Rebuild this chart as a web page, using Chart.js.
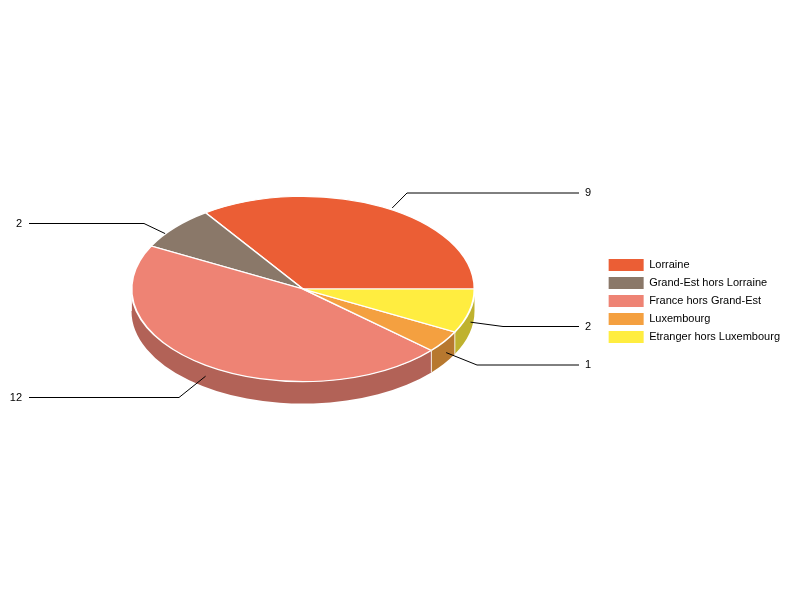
<!DOCTYPE html>
<html>
<head>
<meta charset="utf-8">
<title>Pie</title>
<script src="https://cdn.jsdelivr.net/npm/chart.js@4/dist/chart.umd.min.js"></script>
<style>
  body { margin: 0; background: #fff; }
  canvas { display: block; }
</style>
</head>
<body>
<canvas id="pie" width="800" height="600"></canvas>
<script>
const categories = ['Lorraine', 'Grand-Est hors Lorraine', 'France hors Grand-Est', 'Luxembourg', 'Etranger hors Luxembourg'];
const values = [9, 2, 12, 1, 2];
const topColors = ['#EB5E35', '#8A7869', '#EE8374', '#F4A040', '#FFED40'];
const wallColors = ['#B04628', '#675A4F', '#B26257', '#B7782F', '#BFB22F'];

// where the flattened pie sits on the page
const view = { x: 303, y: 289, radius: 171.5, squash: 0.54, depth: 22 };

// leader lines: nudge from the slice's rim point, then elbow and line end
const leaders = [
  { dx: 9.5, dy: 1, elbowX: 407, elbowY: 193, endX: 579 },
  { dx: -9.5, dy: 6, elbowX: 144, elbowY: 223.5, endX: 29 },
  { dx: 0, dy: 11, elbowX: 179, elbowY: 397.5, endX: 29 },
  { dx: 2, dy: 11, elbowX: 477, elbowY: 365, endX: 579 },
  { dx: 1, dy: 11, elbowX: 503, elbowY: 326.5, endX: 579 }
];

const pie3d = {
  id: 'pie3d',
  beforeDatasetsDraw(chart) {
    const ctx = chart.ctx;
    const arcs = chart.getDatasetMeta(0).data;
    const ry = view.radius * view.squash;
    arcs.forEach((arc, i) => {
      // only the front half of the rim shows
      const a0 = Math.max(arc.startAngle, Math.PI);
      const a1 = Math.min(arc.endAngle, Math.PI * 2);
      if (a1 <= a0) return;
      ctx.save();
      ctx.beginPath();
      ctx.ellipse(view.x, view.y, view.radius, ry, 0, -a0, -a1, true);
      ctx.ellipse(view.x, view.y + view.depth, view.radius, ry, 0, -a1, -a0, false);
      ctx.closePath();
      ctx.fillStyle = wallColors[i];
      ctx.fill();
      const sx = view.x + view.radius * Math.cos(a0);
      const sy = view.y - ry * Math.sin(a0);
      ctx.beginPath();
      ctx.moveTo(sx, sy);
      ctx.lineTo(sx, sy + view.depth);
      ctx.strokeStyle = 'rgba(255,255,255,0.8)';
      ctx.lineWidth = 1;
      ctx.stroke();
      ctx.restore();
    });
    // flip and flatten the real arcs, angles then run counter-clockwise
    const a = arcs[0];
    ctx.save();
    ctx.translate(view.x, view.y);
    ctx.scale(1, -view.squash);
    ctx.translate(-a.x, -a.y);
  },
  afterDatasetsDraw(chart) {
    chart.ctx.restore();
  },
  afterDraw(chart) {
    const ctx = chart.ctx;
    const ry = view.radius * view.squash;
    chart.getDatasetMeta(0).data.forEach((arc, i) => {
      const mid = (arc.startAngle + arc.endAngle) / 2;
      const l = leaders[i];
      const sx = view.x + view.radius * Math.cos(mid) + l.dx;
      const sy = view.y - ry * Math.sin(mid) + l.dy;
      ctx.save();
      ctx.beginPath();
      ctx.moveTo(sx, sy);
      ctx.lineTo(l.elbowX, l.elbowY);
      ctx.lineTo(l.endX, l.elbowY);
      ctx.strokeStyle = '#000';
      ctx.lineWidth = 1;
      ctx.stroke();
      ctx.fillStyle = '#000';
      ctx.font = '11px "Liberation Sans", Arial, sans-serif';
      ctx.textBaseline = 'middle';
      const onLeft = l.endX < view.x;
      ctx.textAlign = onLeft ? 'right' : 'left';
      ctx.fillText(String(values[i]), l.endX + (onLeft ? -7 : 6), l.elbowY);
      ctx.restore();
    });
  }
};

new Chart(document.getElementById('pie'), {
  type: 'pie',
  data: {
    labels: categories,
    datasets: [{
      data: values,
      backgroundColor: topColors,
      borderColor: '#fff',
      borderWidth: 2,
      clip: false
    }]
  },
  options: {
    responsive: false,
    animation: false,
    rotation: 90,
    radius: view.radius,
    layout: { padding: { right: 10, top: 2 } },
    plugins: {
      tooltip: { enabled: false },
      legend: {
        position: 'right',
        labels: {
          boxWidth: 35,
          boxHeight: 12,
          padding: 6,
          color: '#000',
          font: { family: '"Liberation Sans", Arial, sans-serif', size: 11 },
          generateLabels: chart => categories.map((name, i) => ({
            text: name,
            fillStyle: topColors[i],
            strokeStyle: topColors[i],
            lineWidth: 0,
            index: i
          }))
        }
      }
    }
  },
  plugins: [pie3d]
});
</script>
</body>
</html>
